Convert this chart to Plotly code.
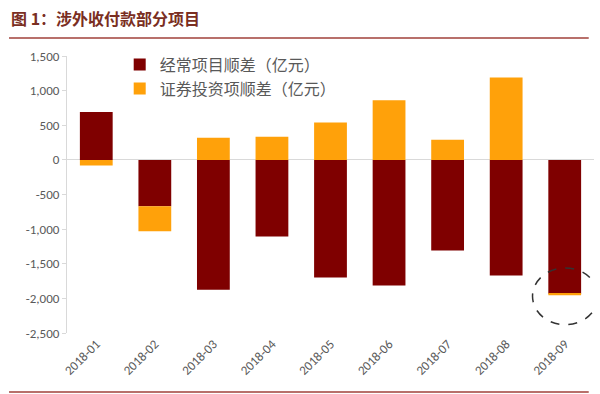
import plotly.graph_objects as go

months = ["2018-01", "2018-02", "2018-03", "2018-04", "2018-05",
          "2018-06", "2018-07", "2018-08", "2018-09"]
current_account = [690, -670, -1875, -1105, -1700, -1815, -1310, -1670, -1935]
securities = [-80, -360, 320, 335, 540, 860, 290, 1190, -20]
series_names = ["经常项目顺差（亿元）", "证券投资项顺差（亿元）"]
y_ticks = [1500, 1000, 500, 0, -500, -1000, -1500, -2000, -2500]
y_tick_text = ["1,500", "1,000", "500", "0", "-500", "-1,000", "-1,500", "-2,000", "-2,500"]
title_text = "图 1：涉外收付款部分项目"

FONT = "Calibri, Carlito, 'Noto Sans CJK SC', sans-serif"
CJK = "'Noto Sans CJK SC', sans-serif"

fig = go.Figure()
fig.add_trace(go.Bar(x=months, y=current_account, name=series_names[0],
                     marker=dict(color="#7F0000", line=dict(width=0)), width=0.56))
fig.add_trace(go.Bar(x=months, y=securities, name=series_names[1],
                     marker=dict(color="#FFA10A", line=dict(width=0)), width=0.56))

fig.update_layout(
    barmode="relative",
    width=600, height=394,
    margin=dict(l=67, r=6, t=56, b=61),
    paper_bgcolor="white", plot_bgcolor="white",
    showlegend=True,
    legend=dict(x=0.10, y=1.03, xanchor="left", yanchor="top",
                font=dict(family=CJK, size=16, color="#595959"),
                bgcolor="rgba(0,0,0,0)", itemwidth=30, tracegroupgap=0),
    xaxis=dict(type="category", tickangle=-45, showgrid=False, showline=False,
               ticks="", tickfont=dict(family=FONT, size=13, color="#595959"),
               range=[-0.5, 8.5]),
    yaxis=dict(range=[-2500, 1500], tickvals=y_ticks, ticktext=y_tick_text,
               showgrid=False, showline=True, linecolor="#D9D9D9", linewidth=1,
               ticks="outside", ticklen=4, tickcolor="#D9D9D9",
               zeroline=True, zerolinecolor="#D9D9D9", zerolinewidth=1,
               tickfont=dict(family=FONT, size=13, color="#595959")),
)

fig.add_annotation(text="<b>" + title_text + "</b>", xref="paper", yref="paper",
                   x=-0.11, y=1.137, xanchor="left", yanchor="middle", showarrow=False,
                   font=dict(family=CJK, size=16, color="#7A2E22"))
fig.add_shape(type="line", xref="paper", yref="paper", x0=-0.11, x1=0.99,
              y0=1.065, y1=1.065, line=dict(color="#A0413A", width=1.5))
fig.add_shape(type="line", xref="paper", yref="paper", x0=-0.11, x1=0.99,
              y0=-0.213, y1=-0.213, line=dict(color="#A0413A", width=1.5))
fig.add_shape(type="circle", xref="x", yref="y", x0=7.45, x1=8.57, y0=-2380, y1=-1560,
              line=dict(color="#333333", width=1.5, dash="dash"))

fig.write_html("out.html", config={"displayModeBar": False},
               post_script="document.body.style.margin='0';")
